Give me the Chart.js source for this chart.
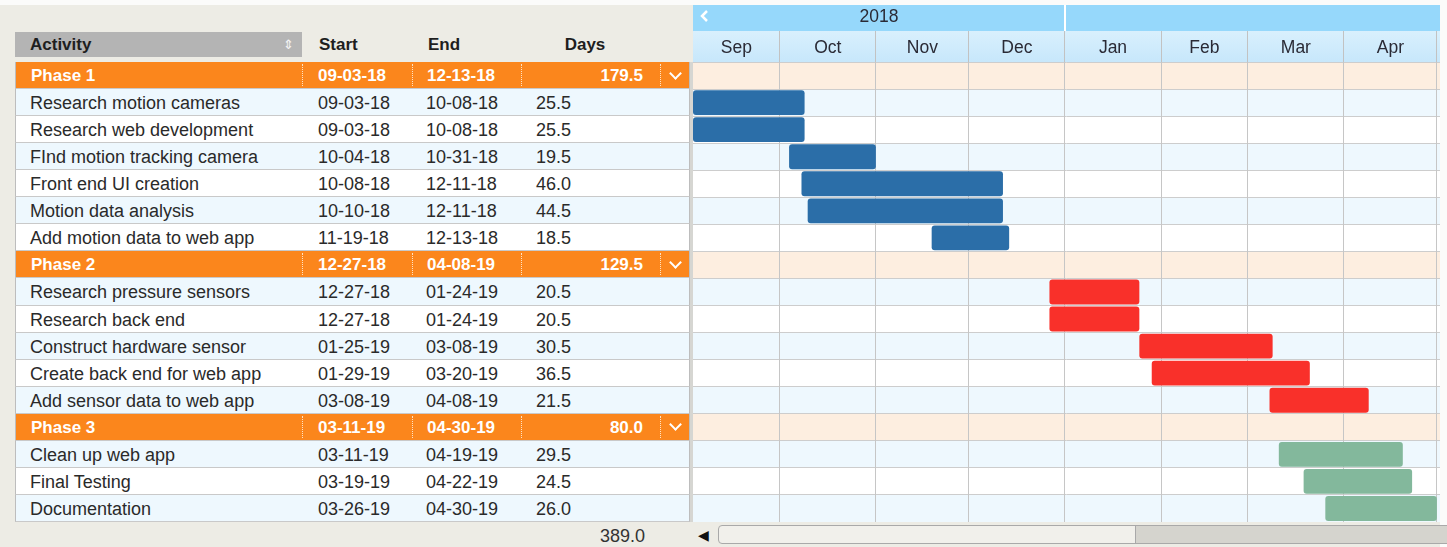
<!DOCTYPE html>
<html>
<head>
<meta charset="utf-8">
<script src="https://cdn.jsdelivr.net/npm/chart.js@4.4.1/dist/chart.umd.min.js"></script>
<style>
  body { margin: 0; width: 1447px; height: 547px; background: #fbfbfa; overflow: hidden; position: relative;
         font-family: 'Liberation Sans', Arial, sans-serif; color: #2a2a2a; }
  #panel { position: absolute; left: 0; top: 5px; width: 1440px; height: 542px; background: #edece5; }
  .hcell { position: absolute; top: 32px; height: 25px; line-height: 25px; font-weight: bold; font-size: 17px; color: #1e1e1e; }
  #hAct { left: 15px; width: 272px; padding-left: 15px; background: #b4b4b4; }
  #hAct .sort { position: absolute; right: 8px; top: 0; font-size: 13px; color: #f4f4f4; font-weight: normal; }
  .row { position: absolute; left: 15px; width: 675px; box-sizing: border-box; border-bottom: 1px solid #c9c9c9;
         border-left: 1px solid #bdbdbd; border-right: 1px solid #bdbdbd; font-size: 18px; }
  .row span { position: absolute; top: 1px; white-space: nowrap; }
  .row.phase { background: #fb861c; color: #fff; font-weight: bold; font-size: 17px; }
  .row .sep { position: absolute; top: 2px; bottom: 2px; width: 0; border-left: 1px dotted #ffe3c4; }
  .chev { position: absolute; width: 7px; height: 7px; border-right: 2.5px solid #fff; border-bottom: 2.5px solid #fff;
          transform: rotate(45deg); }
  #total { position: absolute; top: 525px; left: 560px; width: 85px; text-align: right; font-size: 18px; color: #333; line-height: 22px; }
  #larrow { position: absolute; left: 698px; top: 527px; font-size: 14px; color: #111; }
  #track { position: absolute; left: 718px; top: 525px; width: 740px; height: 19px; box-sizing: border-box;
           border: 1px solid #a9a9a9; border-radius: 4px; background: #f1f0eb; }
  #thumb { position: absolute; left: 1135px; top: 526px; width: 320px; height: 17px; background: #d5d4ce; border-left: 1px solid #a9a9a9; }
  #gantt { position: absolute; left: 693px; top: 5px; }
  #gap { position: absolute; left: 690px; top: 62px; width: 3px; height: 460px; background: #d6d6d2; }
</style>
</head>
<body>
<div id="panel"></div>
<div id="hAct" class="hcell">Activity<span class="sort">&#8661;</span></div>
<div class="hcell" style="left:319px">Start</div>
<div class="hcell" style="left:428px">End</div>
<div class="hcell" style="left:545px;width:80px;text-align:center">Days</div>
<div id="rows"></div>
<div id="gap"></div>
<canvas id="gantt" width="747" height="517"></canvas>
<div id="total"></div>
<div id="larrow">&#9664;</div>
<div id="track"></div>
<div id="thumb"></div>
<script>
// ---- data ----
const activities = [
  'Phase 1', 'Research motion cameras', 'Research web development', 'FInd motion tracking camera',
  'Front end UI creation', 'Motion data analysis', 'Add motion data to web app',
  'Phase 2', 'Research pressure sensors', 'Research back end', 'Construct hardware sensor',
  'Create back end for web app', 'Add sensor data to web app',
  'Phase 3', 'Clean up web app', 'Final Testing', 'Documentation'
];
const startDates = [
  '09-03-18', '09-03-18', '09-03-18', '10-04-18', '10-08-18', '10-10-18', '11-19-18',
  '12-27-18', '12-27-18', '12-27-18', '01-25-19', '01-29-19', '03-08-19',
  '03-11-19', '03-11-19', '03-19-19', '03-26-19'
];
const endDates = [
  '12-13-18', '10-08-18', '10-08-18', '10-31-18', '12-11-18', '12-11-18', '12-13-18',
  '04-08-19', '01-24-19', '01-24-19', '03-08-19', '03-20-19', '04-08-19',
  '04-30-19', '04-19-19', '04-22-19', '04-30-19'
];
const days = [179.5, 25.5, 25.5, 19.5, 46.0, 44.5, 18.5, 129.5, 20.5, 20.5, 30.5, 36.5, 21.5, 80.0, 29.5, 24.5, 26.0];
const phaseOf = [0, 0, 0, 0, 0, 0, 0, 1, 1, 1, 1, 1, 1, 2, 2, 2, 2];
const totalDays = '389.0';
const monthNames = ['Sep', 'Oct', 'Nov', 'Dec', 'Jan', 'Feb', 'Mar', 'Apr'];
const yearLabels = ['2018'];

const phaseColors = ['#2b6ea8', '#f9302a', '#83b89c'];

// day 0 = 1 Sep 2018
const origin = Date.UTC(2018, 8, 1);
function dayIndex(s) {
  const [mm, dd, yy] = s.split('-').map(Number);
  return (Date.UTC(2000 + yy, mm - 1, dd) - origin) / 86400000;
}
const xMin = 2, xMax = 243;

const isPhase = activities.map(a => a.startsWith('Phase'));
const spans = activities.map((a, i) => isPhase[i] ? null : [dayIndex(startDates[i]), dayIndex(endDates[i]) + 1]);
const barColors = phaseOf.map(p => phaseColors[p]);

// month boundaries Sep 2018 .. May 2019
const monthStarts = [];
for (let k = 0; k <= monthNames.length; k++) monthStarts.push((Date.UTC(2018, 8 + k, 1) - origin) / 86400000);
const monthTicks = [];
const monthLabelAt = new Map();
const boundarySet = new Set();
for (let k = 0; k < monthNames.length; k++) {
  const mid = (Math.max(monthStarts[k], xMin) + Math.min(monthStarts[k + 1], xMax)) / 2;
  monthTicks.push(mid);
  monthLabelAt.set(mid, monthNames[k]);
  if (monthStarts[k + 1] <= xMax) { monthTicks.push(monthStarts[k + 1]); boundarySet.add(monthStarts[k + 1]); }
}
const yearStart = (Date.UTC(2019, 0, 1) - origin) / 86400000;
const yearMid = (xMin + yearStart) / 2;
const yearTicks = [yearMid, yearStart];

// ---- left table ----
const rowH = 460 / activities.length;
const rowsEl = document.getElementById('rows');
let k = 0;
activities.forEach((name, i) => {
  const r = document.createElement('div');
  r.className = 'row' + (isPhase[i] ? ' phase' : '');
  r.style.top = (62 + i * rowH) + 'px';
  r.style.height = rowH + 'px';
  r.style.lineHeight = (rowH - 1) + 'px';
  if (isPhase[i]) {
    k = 0;
    r.innerHTML = `<span style="left:15px">${name}</span>
      <span style="left:302px">${startDates[i]}</span>
      <span style="left:411px">${endDates[i]}</span>
      <span style="right:46px">${days[i].toFixed(1)}</span>
      <div class="sep" style="left:286px"></div><div class="sep" style="left:396px"></div>
      <div class="sep" style="left:505px"></div><div class="sep" style="left:644px"></div>
      <div class="chev" style="left:655px;top:${rowH / 2 - 7}px"></div>`;
  } else {
    r.style.background = (k % 2 === 0) ? '#eef8fe' : '#ffffff';
    k++;
    r.innerHTML = `<span style="left:14px">${name}</span>
      <span style="left:302px">${startDates[i]}</span>
      <span style="left:410px">${endDates[i]}</span>
      <span style="left:520px">${days[i].toFixed(1)}</span>`;
  }
  rowsEl.appendChild(r);
});
document.getElementById('total').textContent = totalDays;

// ---- gantt ----
const rowShading = {
  id: 'rowShading',
  beforeDraw(chart) {
    const { ctx, chartArea, scales } = chart;
    const y = scales.y, mx = scales.x, yr = scales.year;
    const half = (y.bottom - y.top) / activities.length / 2;
    let n = 0;
    activities.forEach((a, i) => {
      const c = y.getPixelForValue(i);
      if (isPhase[i]) { ctx.fillStyle = '#fdeee0'; n = 0; }
      else { ctx.fillStyle = (n % 2 === 0) ? '#eef8fe' : '#ffffff'; n++; }
      ctx.fillRect(chartArea.left, c - half, chartArea.right - chartArea.left, half * 2);
    });
    ctx.fillStyle = '#96d8fb';
    ctx.fillRect(chartArea.left, yr.top, chartArea.right - chartArea.left, yr.bottom - yr.top);
    const g = ctx.createLinearGradient(0, mx.top, 0, mx.bottom);
    g.addColorStop(0, '#d9f0fd');
    g.addColorStop(1, '#c7e7fb');
    ctx.fillStyle = g;
    ctx.fillRect(chartArea.left, mx.top, chartArea.right - chartArea.left, mx.bottom - mx.top);
    // scroll-back arrow in the year band
    const cy = (yr.top + yr.bottom) / 2 - 2;
    ctx.strokeStyle = '#ffffff';
    ctx.lineWidth = 2.5;
    ctx.beginPath();
    ctx.moveTo(chartArea.left + 14, cy - 5);
    ctx.lineTo(chartArea.left + 9, cy);
    ctx.lineTo(chartArea.left + 14, cy + 5);
    ctx.stroke();
  }
};

Chart.defaults.font.family = "'Liberation Sans', Arial, sans-serif";
Chart.defaults.font.size = 17.5;
Chart.defaults.color = '#2a2a35';

new Chart(document.getElementById('gantt'), {
  type: 'bar',
  data: {
    labels: activities,
    datasets: [{
      data: spans,
      backgroundColor: barColors,
      borderRadius: 3,
      borderSkipped: false,
      barPercentage: 0.92,
      categoryPercentage: 1
    }]
  },
  options: {
    indexAxis: 'y',
    responsive: false,
    animation: false,
    layout: { padding: 0 },
    plugins: { legend: { display: false }, tooltip: { enabled: false } },
    scales: {
      y: {
        afterFit: s => { s.width = 0; },
        ticks: { display: false },
        grid: { color: '#cdcdcd', drawTicks: false, offset: true },
        border: { display: false }
      },
      x: {
        type: 'linear',
        position: 'top',
        weight: 0,
        min: xMin,
        max: xMax,
        afterFit: s => { s.height = 31; },
        afterBuildTicks: s => { s.ticks = monthTicks.map(v => ({ value: v })); },
        ticks: {
          autoSkip: false, maxRotation: 0, padding: -28,
          callback: v => monthLabelAt.get(v) || ''
        },
        grid: {
          tickLength: 31,
          color: c => boundarySet.has(c.tick && c.tick.value) ? '#c6c6c6' : 'rgba(0,0,0,0)',
          tickColor: c => boundarySet.has(c.tick && c.tick.value) ? '#c2c2c2' : 'rgba(0,0,0,0)'
        },
        border: { display: false }
      },
      year: {
        type: 'linear',
        axis: 'x',
        position: 'top',
        weight: 1,
        min: xMin,
        max: xMax,
        afterFit: s => { s.height = 26; },
        afterBuildTicks: s => { s.ticks = yearTicks.map(v => ({ value: v })); },
        ticks: {
          autoSkip: false, maxRotation: 0, padding: -22.5,
          callback: (v, i) => (i < yearLabels.length ? yearLabels[i] : '')
        },
        grid: {
          drawOnChartArea: false,
          tickLength: 26,
          lineWidth: 2,
          tickColor: c => (c.tick && c.tick.value === yearStart) ? '#ffffff' : 'rgba(0,0,0,0)'
        },
        border: { display: false }
      }
    }
  },
  plugins: [rowShading]
});
</script>
</body>
</html>
